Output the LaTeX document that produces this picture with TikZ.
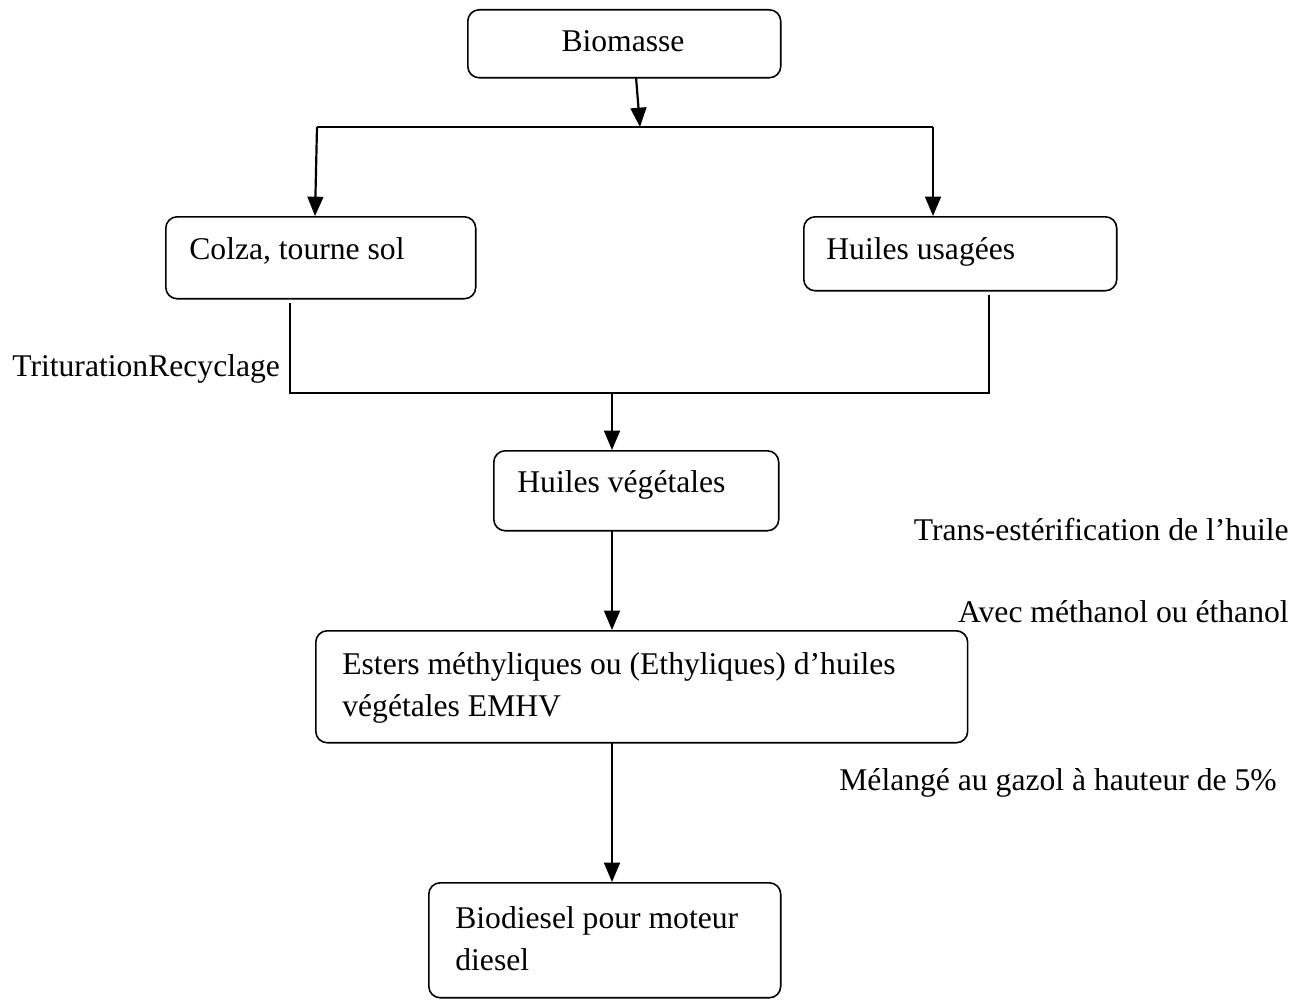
\documentclass[tikz,border=0pt]{standalone}
\usepackage{fontspec}
\setmainfont{Liberation Serif}
\usetikzlibrary{arrows.meta}
\begin{document}
\begin{tikzpicture}[x=0.02cm,y=-0.02cm,
  box/.style={draw,line width=0.9pt,rounded corners=6.5pt,anchor=north west,inner sep=0pt},
  lbl/.style={inner sep=0pt,font=\fontsize{18}{23.5}\selectfont,align=left},
  con/.style={line width=1.25pt},
  arr/.style={line width=1.25pt,-{Triangle[length=11pt,width=9pt]}}]
\useasboundingbox (0,0) rectangle (1307,1000);
% boxes
\node[box,minimum width=6.26cm,minimum height=1.36cm] (bio) at (467,9) {};
\node[box,minimum width=6.2cm,minimum height=1.64cm] (colza) at (165,216) {};
\node[box,minimum width=6.26cm,minimum height=1.48cm] (usag) at (803,216) {};
\node[box,minimum width=5.7cm,minimum height=1.6cm] (veg) at (493,450) {};
\node[box,minimum width=13.04cm,minimum height=2.24cm] (est) at (315,630) {};
\node[box,minimum width=7.04cm,minimum height=2.3cm] (bdz) at (428,882) {};
% box texts
\node[lbl,anchor=base] (tbio) at (623,52) {Biomasse};
\node[lbl,anchor=base west] (tcolza) at (189,259) {Colza, tourne sol};
\node[lbl,anchor=base west] (tusag) at (826,259) {Huiles usagées};
\node[lbl,anchor=base west] (tveg) at (517,492) {Huiles végétales};
\node[lbl,anchor=base west] (test) at (342,716) {Esters méthyliques ou (Ethyliques) d’huiles\\végétales EMHV};
\node[lbl,anchor=base west] (tbdz) at (455,970) {Biodiesel pour moteur\\diesel};
% free labels
\node[lbl,anchor=base west] (ttrit) at (12,376) {TriturationRecyclage};
\node[lbl,anchor=base east] (ttrans) at (1289,540) {Trans-estérification de l’huile};
\node[lbl,anchor=base east] (tavec) at (1289,622) {Avec méthanol ou éthanol};
\node[lbl,anchor=base east] (tmel) at (1277,790) {Mélangé au gazol à hauteur de 5\%};
% connector points
\coordinate (b0) at (636,77);
\coordinate (b1) at (640,127);
\coordinate (hl) at (317,127);
\coordinate (hr) at (933,127);
\coordinate (cl) at (315,216);
\coordinate (cr) at (933,216);
\coordinate (m1) at (290,303);
\coordinate (m2) at (290,393);
\coordinate (m3) at (989,393);
\coordinate (m4) at (989,295);
\coordinate (mc) at (612,393);
\coordinate (v0) at (612,450);
\coordinate (v1) at (612,530);
\coordinate (e0) at (612,630);
\coordinate (e1) at (612,742);
\coordinate (d0) at (612,882);
% connectors
\draw[arr] (b0) -- (b1);
\draw[con] (hl) -- (hr);
\draw[arr] (hl) -- (cl);
\draw[arr] (hr) -- (cr);
\draw[con] (m1) -- (m2) -- (m3) -- (m4);
\draw[arr] (mc) -- (v0);
\draw[arr] (v1) -- (e0);
\draw[arr] (e1) -- (d0);
\end{tikzpicture}
\end{document}
